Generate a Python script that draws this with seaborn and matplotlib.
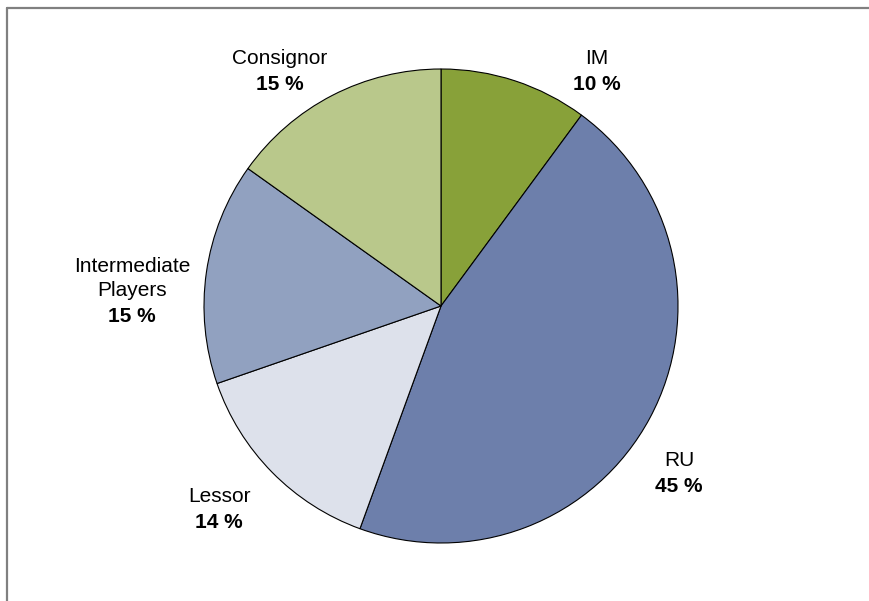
import numpy as np
import matplotlib
matplotlib.use("Agg")
import matplotlib.pyplot as plt
import seaborn as sns
from matplotlib.lines import Line2D

# data
segments = ["IM", "RU", "Lessor", "Intermediate\nPlayers", "Consignor"]
shares = [10, 45, 14, 15, 15]
pct_labels = ["10 %", "45 %", "14 %", "15 %", "15 %"]
slice_colors = ["#88a139", "#6d7fab", "#dde1eb", "#91a1c0", "#b9c88b"]

# label anchors in pixels (x centre, y of first line)
label_pos = [(597, 58), (679, 460), (219, 496), (132, 266), (280, 58)]
line_step = 25

W, H = 869, 601

sns.set_theme(style="white")
plt.rcParams['font.family'] = ['Liberation Sans', 'DejaVu Sans']

fig = plt.figure(figsize=(W / 100, H / 100), dpi=100)
fig.patch.set_facecolor("white")
ax = fig.add_axes([0, 0, 1, 1])

ax.pie(shares, colors=sns.color_palette(slice_colors), startangle=90, counterclock=False,
       center=(441, H - 306), radius=237,
       wedgeprops=dict(edgecolor="black", linewidth=0.8))
ax.set_xlim(0, W)
ax.set_ylim(0, H)
ax.set_aspect("equal")
ax.axis("off")

for name, pct, (px, py) in zip(segments, pct_labels, label_pos):
    lines = name.split("\n")
    for i, ln in enumerate(lines):
        ax.text(px, H - (py + i * line_step), ln, ha="center", va="center",
                fontsize=15, color="black")
    ax.text(px, H - (py + len(lines) * line_step + 1), pct, ha="center", va="center",
            fontsize=15, fontweight="bold", color="black")

# grey frame (top and left edges only are visible)
fig.add_artist(Line2D([7 / W, 7 / W], [0, 1 - 8 / H], transform=fig.transFigure,
                      color="#808080", linewidth=1.6))
fig.add_artist(Line2D([7 / W, 1], [1 - 8 / H, 1 - 8 / H], transform=fig.transFigure,
                      color="#808080", linewidth=1.6))

fig.savefig("out.png", dpi=100, facecolor="white")
